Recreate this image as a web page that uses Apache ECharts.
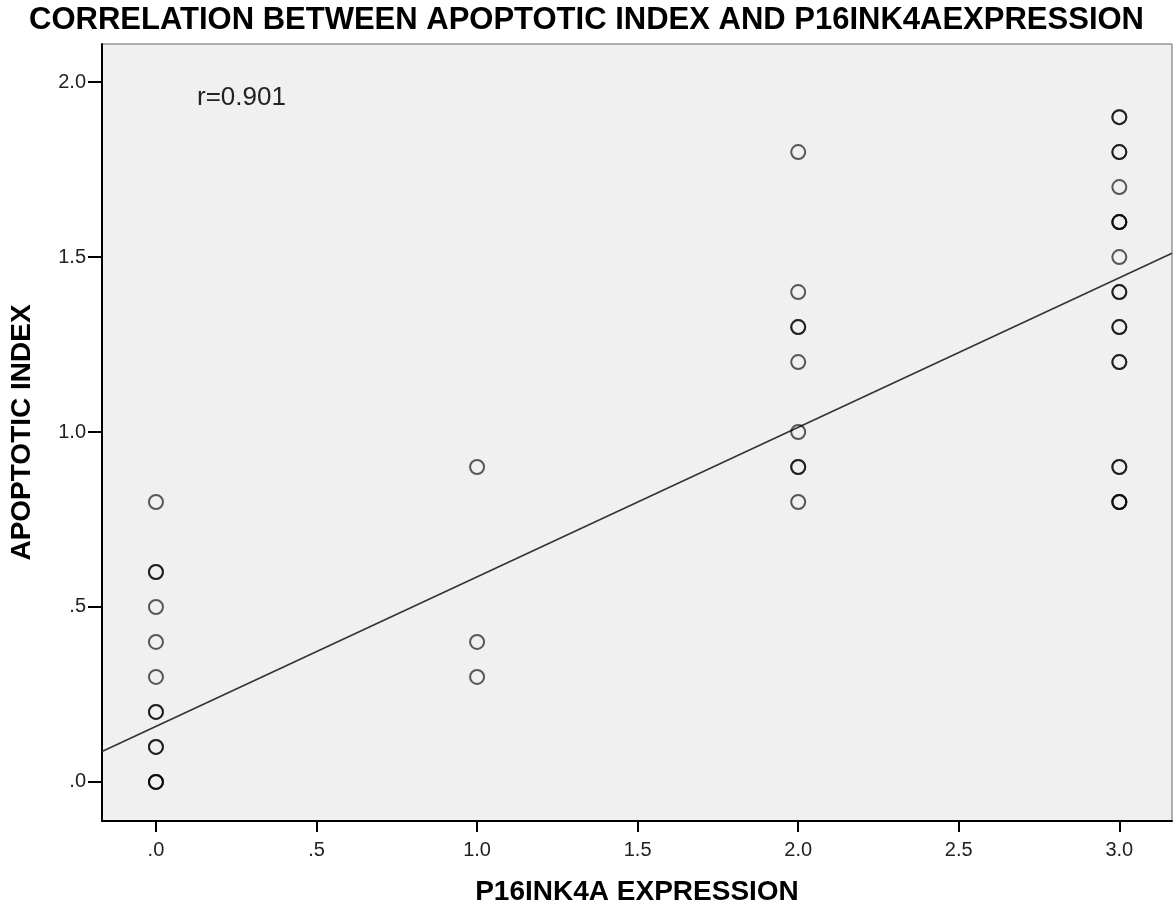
<!DOCTYPE html>
<html>
<head>
<meta charset="utf-8">
<title>Apoptotic index vs P16INK4A</title>
<script src="https://cdn.jsdelivr.net/npm/echarts@6/dist/echarts.min.js"></script>
<style>
  html, body { margin: 0; padding: 0; background: #fff; }
  #chart { width: 1173px; height: 911px; }
</style>
</head>
<body>
<div id="chart"></div>
<script>
// P16INK4A expression score for each case
const expression = [
  0, 0, 0, 0, 0, 0, 0, 0, 0, 0, 0, 0, 0,
  1, 1, 1,
  2, 2, 2, 2, 2, 2, 2, 2, 2,
  3, 3, 3, 3, 3, 3, 3, 3, 3, 3, 3, 3, 3, 3, 3, 3, 3, 3, 3, 3
]
// apoptotic index for each case (same order)
const apoptotic = [
  0.8, 0.6, 0.6, 0.5, 0.4, 0.3, 0.2, 0.2, 0.1, 0.1, 0.0, 0.0, 0.0,
  0.9, 0.4, 0.3,
  1.8, 1.4, 1.3, 1.3, 1.2, 1.0, 0.9, 0.9, 0.8,
  1.9, 1.9, 1.8, 1.8, 1.7, 1.6, 1.6, 1.5, 1.4, 1.4, 1.3, 1.3, 1.2, 1.2, 0.9, 0.9, 0.8, 0.8, 0.8, 1.6
]
// fit line (end points at plot edges)
const fitX = [-0.168, 3.164]
const fitY = [0.087, 1.511]

const xTicks = [0, 0.5, 1.0, 1.5, 2.0, 2.5, 3.0]
const yTicks = [0, 0.5, 1.0, 1.5, 2.0]

const font = 'Liberation Sans, Arial, sans-serif'

// SPSS style ".5" instead of "0.5"
function fmt(v) {
  return v.toFixed(1).replace(/^0/, '')
}

const chart = echarts.init(document.getElementById('chart'))
chart.setOption({
  animation: false,
  title: {
    text: 'CORRELATION BETWEEN APOPTOTIC INDEX AND P16INK4AEXPRESSION',
    left: 'center',
    top: 0,
    textStyle: { fontFamily: font, fontSize: 31, fontWeight: 'bold', color: '#000' }
  },
  grid: {
    left: 101,
    right: 1,
    top: 44,
    bottom: 86,
    show: true,
    backgroundColor: '#f0f0f0',
    borderColor: '#666',
    borderWidth: 1
  },
  graphic: [{
    type: 'text',
    left: 197,
    top: 85,
    style: { text: 'r=0.901', font: '26px ' + font, fill: '#222' }
  }],
  xAxis: {
    type: 'value',
    min: -0.168,
    max: 3.164,
    name: 'P16INK4A EXPRESSION',
    nameLocation: 'middle',
    nameGap: 57,
    nameTextStyle: { fontFamily: font, fontSize: 28, fontWeight: 'bold', color: '#000' },
    axisLine: { onZero: false, lineStyle: { color: '#000', width: 2 } },
    axisTick: { show: true, length: 11, customValues: xTicks, lineStyle: { color: '#000', width: 2 } },
    axisLabel: { customValues: xTicks, formatter: fmt, margin: 19, fontFamily: font, fontSize: 20, color: '#222' },
    splitLine: { show: false }
  },
  yAxis: {
    type: 'value',
    min: -0.1117,
    max: 2.109,
    name: 'APOPTOTIC INDEX',
    nameLocation: 'middle',
    nameGap: 66,
    nameTextStyle: { fontFamily: font, fontSize: 28, fontWeight: 'bold', color: '#000' },
    axisLine: { onZero: false, lineStyle: { color: '#000', width: 2 } },
    axisTick: { show: true, length: 14, customValues: yTicks, lineStyle: { color: '#000', width: 2 } },
    axisLabel: { customValues: yTicks, formatter: fmt, margin: 16, fontFamily: font, fontSize: 20, color: '#222' },
    splitLine: { show: false }
  },
  series: [
    {
      type: 'line',
      data: fitX.map((x, i) => [x, fitY[i]]),
      symbol: 'none',
      silent: true,
      lineStyle: { color: '#333', width: 1.6 },
      z: 1
    },
    {
      type: 'scatter',
      data: expression.map((x, i) => [x, apoptotic[i]]),
      symbol: 'circle',
      symbolSize: 14,
      itemStyle: { color: 'transparent', borderColor: 'rgba(0,0,0,0.8)', borderWidth: 2 },
      z: 2
    }
  ]
})
</script>
</body>
</html>
